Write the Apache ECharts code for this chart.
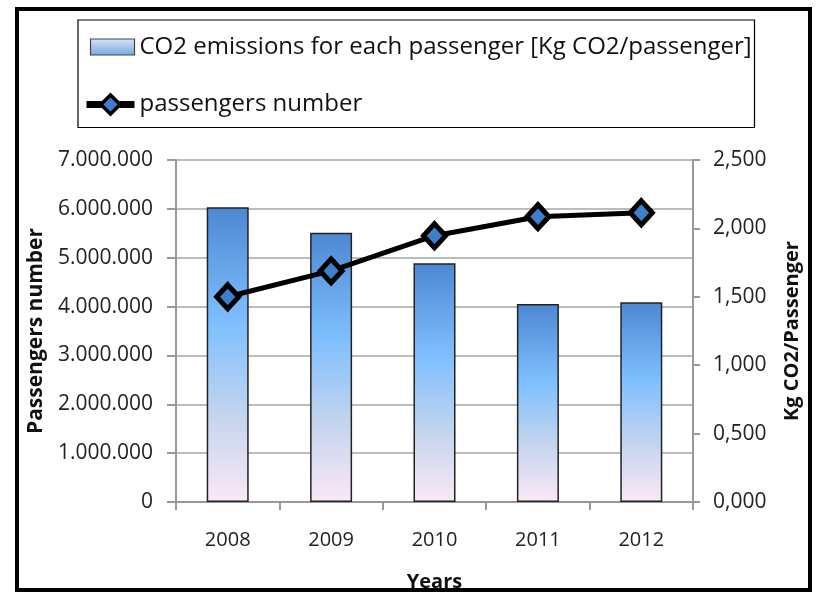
<!DOCTYPE html>
<html>
<head>
<meta charset="utf-8">
<script src="https://cdn.jsdelivr.net/npm/echarts@6/dist/echarts.min.js"></script>
<style>html,body{margin:0;padding:0;background:#fff;}#c{width:816px;height:592px;}</style>
</head>
<body>
<div id="c"></div>
<script>
const years = ['2008', '2009', '2010', '2011', '2012'];
const co2PerPassenger = [2.155, 1.968, 1.745, 1.447, 1.460];
const passengers = [4200000, 4730000, 5450000, 5840000, 5920000];
const leftTicks = { min: 0, max: 7000000, interval: 1000000 };
const rightTicks = { min: 0, max: 2.5, interval: 0.5 };

const FONT = 'Open Sans';
const chart = echarts.init(document.getElementById('c'));
const fmtLeft = v => String(Math.round(v)).replace(/\B(?=(\d{3})+(?!\d))/g, '.');
const fmtRight = v => v.toFixed(3).replace('.', ',');
const barGradient = new echarts.graphic.LinearGradient(0, 0, 0, 1, [
  { offset: 0, color: '#4d88d3' },
  { offset: 0.4, color: '#80c0ff' },
  { offset: 0.7, color: '#c2d4ee' },
  { offset: 1, color: '#fbe8f6' }
]);
const legendGradient = new echarts.graphic.LinearGradient(0, 0, 0, 1, [
  { offset: 0, color: '#eef3fb' },
  { offset: 1, color: '#5f98dc' }
]);
chart.setOption({
  animation: false,
  textStyle: { fontFamily: FONT },
  graphic: [{
    type: 'rect', shape: { x: 17, y: 9, width: 793, height: 581 },
    style: { fill: 'none', stroke: '#000', lineWidth: 4 }, z: 100
  }],
  legend: {
    left: 78, top: 20, orient: 'vertical',
    borderColor: '#000', borderWidth: 1.2,
    padding: [12, 0, 8, 5],
    itemWidth: 48, itemHeight: 24, itemGap: 27.5, itemTextGap: 4,
    textStyle: { fontFamily: FONT, fontSize: 24, color: '#111', lineHeight: 30, width: 615, overflow: 'none' },
    data: [{
      name: 'CO2 emissions for each passenger [Kg CO2/passenger]',
      icon: 'path://M0,0 M4,4 L48,4 L48,20 L4,20 Z M48,24',
      itemStyle: { color: legendGradient, borderColor: '#444', borderWidth: 1.2 }
    }, {
      name: 'passengers number',
      lineStyle: { width: 7, color: '#000' },
      itemStyle: { borderWidth: 3.5, borderColor: '#000' }
    }]
  },
  grid: { left: 176, right: 123, top: 160, bottom: 90, outerBoundsMode: 'none', containLabel: false },
  xAxis: {
    type: 'category', data: years, boundaryGap: true,
    name: 'Years', nameLocation: 'middle', nameGap: 70,
    nameTextStyle: { fontFamily: FONT, fontSize: 20, fontWeight: 'bold', color: '#111' },
    axisLine: { lineStyle: { color: '#999', width: 2 } },
    axisTick: { show: true, length: 8, lineStyle: { color: '#999', width: 2 } },
    axisLabel: { margin: 28, fontSize: 20, color: '#222', fontFamily: FONT }
  },
  yAxis: [{
    type: 'value', position: 'left', min: leftTicks.min, max: leftTicks.max, interval: leftTicks.interval,
    name: 'Passengers number', nameLocation: 'middle', nameGap: 124, nameRotate: 90,
    nameTextStyle: { fontFamily: FONT, fontSize: 21, fontWeight: 'bold', color: '#111' },
    axisLine: { show: true, lineStyle: { color: '#999', width: 2 } },
    axisTick: { show: true, length: 9, inside: false, lineStyle: { color: '#999', width: 2 } },
    splitLine: { show: true, lineStyle: { color: '#a6a6a6', width: 1.5 } },
    axisLabel: { margin: 23, fontSize: 21, color: '#222', fontFamily: FONT, formatter: fmtLeft }
  }, {
    type: 'value', position: 'right', min: rightTicks.min, max: rightTicks.max, interval: rightTicks.interval,
    name: 'Kg CO2/Passenger', nameLocation: 'middle', nameGap: 89, nameRotate: 90,
    nameTextStyle: { fontFamily: FONT, fontSize: 20, fontWeight: 'bold', color: '#111' },
    axisLine: { show: true, lineStyle: { color: '#999', width: 2 } },
    axisTick: { show: true, length: 7, lineStyle: { color: '#999', width: 2 } },
    splitLine: { show: false },
    axisLabel: { margin: 20, fontSize: 21, color: '#222', fontFamily: FONT, formatter: fmtRight }
  }],
  series: [{
    name: 'CO2 emissions for each passenger [Kg CO2/passenger]',
    type: 'bar', yAxisIndex: 1, data: co2PerPassenger, barWidth: 42,
    itemStyle: { color: barGradient, borderColor: '#222', borderWidth: 1.5 }
  }, {
    name: 'passengers number',
    type: 'line', yAxisIndex: 0, data: passengers,
    symbol: 'diamond', symbolSize: [22, 24],
    lineStyle: { color: '#000', width: 5 },
    itemStyle: { color: '#3d7fcc', borderColor: '#000', borderWidth: 5 },
    z: 5
  }]
});
</script>
</body>
</html>
